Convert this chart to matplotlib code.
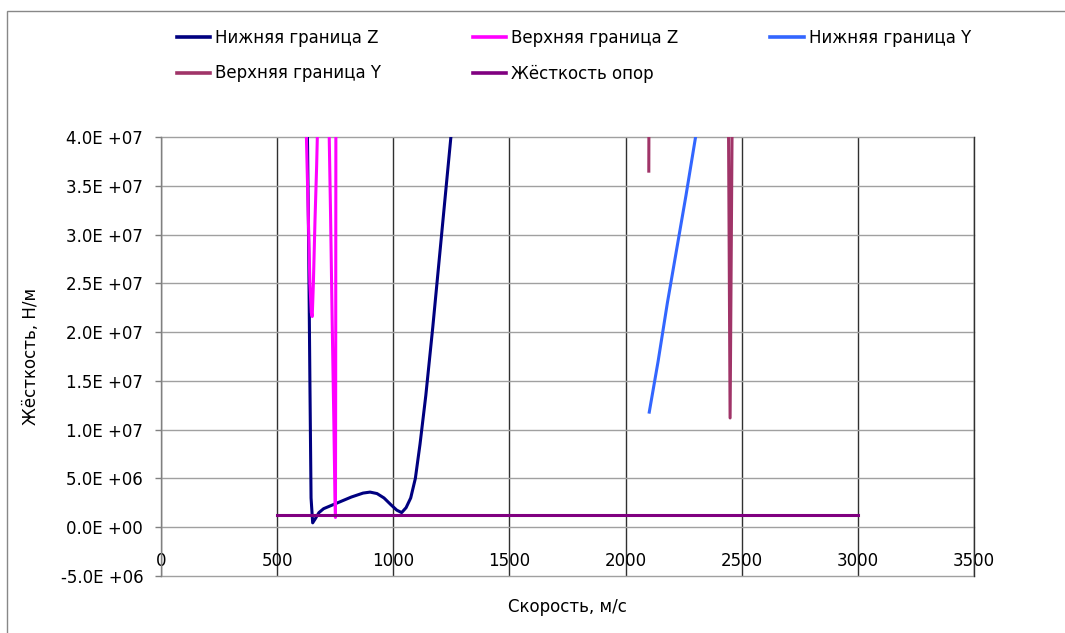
import numpy as np
import matplotlib
matplotlib.use("Agg")
import matplotlib.pyplot as plt
from matplotlib.patches import Rectangle
from matplotlib.ticker import FuncFormatter

nan = np.nan

# Нижняя граница Z
z_low_x = [626, 631, 636, 641, 646, 653, 665, 680, 700, 730, 770, 820, 870, 900,
           930, 960, 990, 1015, 1036, 1055, 1075, 1095, 1115, 1140, 1170, 1200, 1230, 1260]
z_low_y = [4.6e7, 3.9e7, 2.8e7, 1.5e7, 3.0e6, 0.45e6, 0.9e6, 1.5e6, 1.9e6, 2.2e6,
           2.6e6, 3.1e6, 3.5e6, 3.6e6, 3.45e6, 3.0e6, 2.3e6, 1.75e6, 1.5e6, 2.0e6,
           3.0e6, 5.0e6, 8.5e6, 1.35e7, 2.05e7, 2.8e7, 3.55e7, 4.3e7]

# Верхняя граница Z
z_up_x = [624, 632, 641, 647, 651, 656, 663, 670, 676, nan,
          722, 730, 737, 744, 749, 751, 752, 753]
z_up_y = [4.2e7, 3.4e7, 2.5e7, 2.2e7, 2.16e7, 2.5e7, 3.15e7, 3.7e7, 4.3e7, nan,
          4.3e7, 3.2e7, 2.1e7, 1.1e7, 3.0e6, 1.0e6, 1.5e7, 4.5e7]

# Нижняя граница Y
y_low_x = [2102, 2140, 2180, 2220, 2260, 2300, 2320]
y_low_y = [1.18e7, 1.7e7, 2.3e7, 2.85e7, 3.4e7, 3.98e7, 4.25e7]

# Верхняя граница Y
y_up_x = [2100, 2101, nan, 2442, 2450, 2460]
y_up_y = [3.65e7, 4.6e7, nan, 4.6e7, 1.12e7, 4.6e7]

# Жёсткость опор
support_x = [500, 3000]
support_y = [1.25e6, 1.25e6]

x_ticks = list(range(0, 3501, 500))
y_ticks = [-5e6 + 5e6 * i for i in range(10)]

plt.rcParams['font.family'] = ['DejaVu Sans']
fig = plt.figure(figsize=(10.65, 6.33), dpi=100)
ax = fig.add_axes([161 / 1065, 57 / 633, 813 / 1065, 439 / 633])

lw = 2.2
h1, = ax.plot(z_low_x, z_low_y, color='#000080', lw=lw, label='Нижняя граница Z')
h2, = ax.plot(z_up_x, z_up_y, color='#FF00FF', lw=lw, label='Верхняя граница Z')
h3, = ax.plot(y_low_x, y_low_y, color='#3366FF', lw=lw, label='Нижняя граница Y')
h4, = ax.plot(y_up_x, y_up_y, color='#A03468', lw=lw, label='Верхняя граница Y')
h5, = ax.plot(support_x, support_y, color='#800080', lw=lw, label='Жёсткость опор')

ax.set_xlim(0, 3500)
ax.set_ylim(-5e6, 4e7)
ax.set_xticks(x_ticks)
ax.set_yticks(y_ticks)
ax.yaxis.set_major_formatter(FuncFormatter(lambda v, p: f"{v:.1E}".replace("E", "E ")))

ax.set_axisbelow(True)
ax.grid(axis='y', color='#a0a0a0', lw=1)
ax.grid(axis='x', color='#303030', lw=1)
# keep the gridlines on the plot edges fully visible
for g in ax.get_xgridlines() + ax.get_ygridlines():
    g.set_clip_on(False)

ax.spines['top'].set_visible(False)
ax.spines['right'].set_color('#303030')
ax.spines['right'].set_linewidth(1)
ax.spines['bottom'].set_position(('data', 0))
ax.spines['bottom'].set_visible(False)
ax.spines['left'].set_color('#808080')
ax.spines['left'].set_linewidth(1)
ax.spines['left'].set_zorder(3)

ax.tick_params(axis='x', length=0, pad=18, labelsize=12)
ax.tick_params(axis='y', length=4.3, width=1, color='#808080', pad=8.5, labelsize=12)

ax.set_xlabel('Скорость, м/с', fontsize=12)
ax.xaxis.set_label_coords(0.5, -0.05)
ax.set_ylabel('Жёсткость, Н/м', fontsize=12)
ax.yaxis.set_label_coords(-0.149, 0.5)

# legend: row-major order like the reference
order = [h1, h4, h2, h5, h3]
fig.legend(order, [h.get_label() for h in order],
           ncol=3, loc='upper left', bbox_to_anchor=(177 / 1065, 1 - 29 / 633),
           frameon=False, fontsize=12, borderpad=0, borderaxespad=0,
           handlelength=2.0, handletextpad=0.3, labelspacing=1.05, columnspacing=5.5)
for line in fig.legends[0].get_lines():
    line.set_linewidth(2.6)

fig.add_artist(Rectangle((7 / 1065, -0.1), 1.2, (633 - 11) / 633 + 0.1,
                         transform=fig.transFigure, fill=False,
                         ec='#888888', lw=1, clip_on=False))

fig.savefig('out.png', dpi=100)
